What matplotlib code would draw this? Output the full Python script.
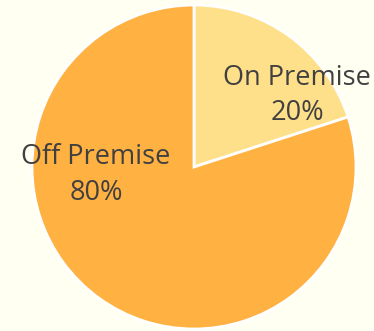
import matplotlib.pyplot as plt

categories = ["On Premise", "Off Premise"]
shares = [20, 80]
colors = ["#FFE08A", "#FFB142"]

fig = plt.figure(figsize=(3.74, 3.31), dpi=100, facecolor="#FFFFF2")
ax = fig.add_axes([0, 0, 1, 1])
ax.set_facecolor("#FFFFF2")

ax.pie(shares, colors=colors, startangle=90, counterclock=False,
       wedgeprops=dict(edgecolor="white", linewidth=2))

label_pos = [(0.636, 0.443), (-0.605, -0.05)]
for name, val, (x, y) in zip(categories, shares, label_pos):
    ax.text(x, y, "{0}\n{1}%".format(name, val), ha="center", va="center",
            fontsize=19.5, color="#404040", family="Open Sans", linespacing=1.35)

ax.set_xlim(-194 / 162, 180 / 162)
ax.set_ylim(-164 / 162, 167 / 162)
ax.set_aspect("equal")
ax.axis("off")

fig.savefig("out.png", dpi=100, facecolor=fig.get_facecolor())
